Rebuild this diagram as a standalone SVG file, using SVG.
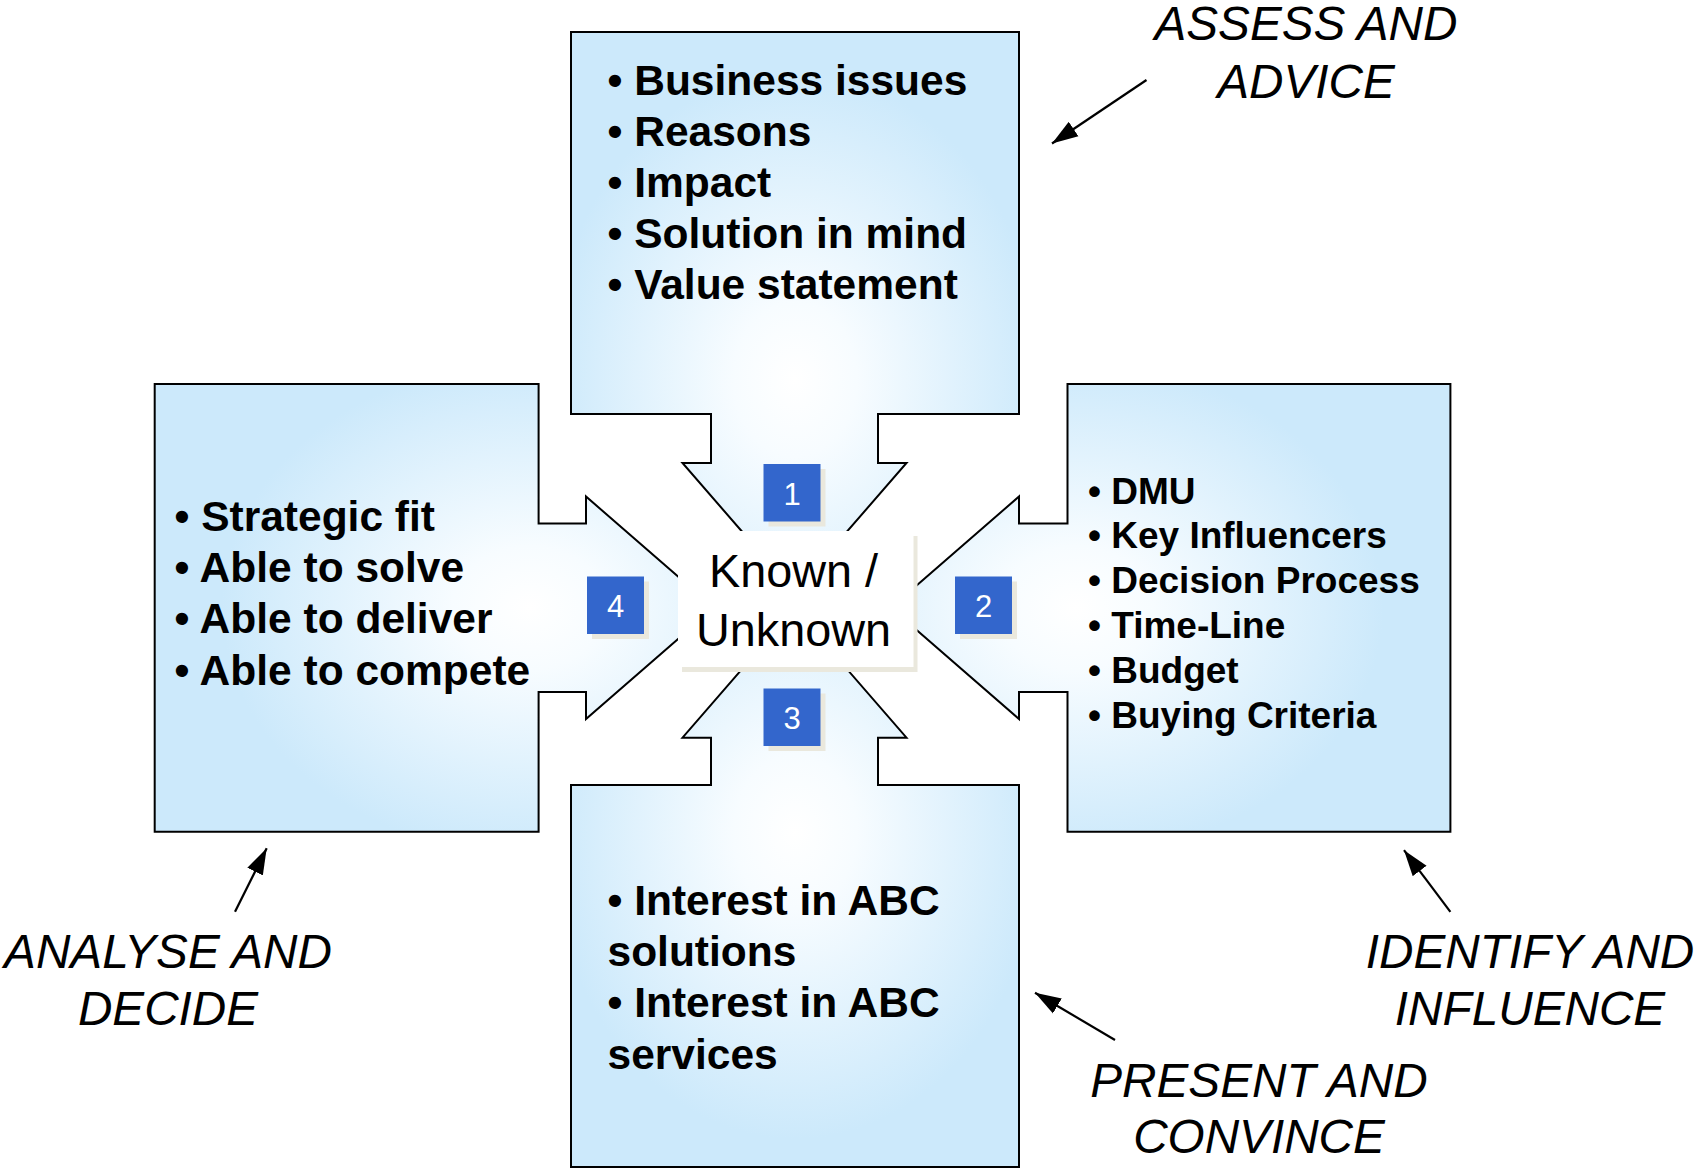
<svg xmlns="http://www.w3.org/2000/svg" width="1696" height="1169" viewBox="0 0 1696 1169">
<style>
.shape{stroke:#000;stroke-width:2;stroke-linejoin:miter}
.bul{font-family:"Liberation Sans",Arial,sans-serif;font-weight:bold;font-size:42.5px;fill:#000}
.bul-s{font-size:37px}
.lbl{font-family:"Liberation Sans",Arial,sans-serif;font-style:italic;font-size:47.7px;fill:#000;text-anchor:middle}
.num{font-family:"Liberation Sans",Arial,sans-serif;font-size:31px;fill:#fff;text-anchor:middle}
.ctr{font-family:"Liberation Sans",Arial,sans-serif;font-size:46.8px;fill:#000;text-anchor:middle}
.sq{fill:#3366CC}
.shd{fill:#EAE8DD}
.ptr{stroke:#000;stroke-width:2.2;fill:none;marker-end:url(#ah)}
</style>
<defs>
<radialGradient id="gTop" cx="0.5" cy="0.62" r="0.55">
<stop offset="0" stop-color="#FFFFFF"/><stop offset="0.25" stop-color="#F7FCFF"/><stop offset="1" stop-color="#CCE9FB"/>
</radialGradient>
<radialGradient id="gBot" cx="0.5" cy="0.40" r="0.55">
<stop offset="0" stop-color="#FFFFFF"/><stop offset="0.25" stop-color="#F7FCFF"/><stop offset="1" stop-color="#CCE9FB"/>
</radialGradient>
<radialGradient id="gLeft" cx="0.67" cy="0.5" r="0.55">
<stop offset="0" stop-color="#FFFFFF"/><stop offset="0.25" stop-color="#F7FCFF"/><stop offset="1" stop-color="#CCE9FB"/>
</radialGradient>
<radialGradient id="gRight" cx="0.33" cy="0.5" r="0.55">
<stop offset="0" stop-color="#FFFFFF"/><stop offset="0.25" stop-color="#F7FCFF"/><stop offset="1" stop-color="#CCE9FB"/>
</radialGradient>
<marker id="ah" markerUnits="userSpaceOnUse" markerWidth="26" markerHeight="18" viewBox="0 0 24 16" refX="24" refY="8" orient="auto">
<path d="M0,0 L24,8 L0,16 Z" fill="#000"/>
</marker>
</defs>
<rect width="1696" height="1169" fill="#fff"/>

<g id="node-top">
<polygon class="shape" fill="url(#gTop)" points="571,32 1019,32 1019,414 878,414 878,463 906.5,463 794.5,592 682.5,463 711,463 711,414 571,414"/>
<text class="bul" x="607.5" y="95">• Business issues</text>
<text class="bul" x="607.5" y="146">• Reasons</text>
<text class="bul" x="607.5" y="197">• Impact</text>
<text class="bul" x="607.5" y="248">• Solution in mind</text>
<text class="bul" x="607.5" y="299">• Value statement</text>
</g>

<g id="node-right">
<polygon class="shape" fill="url(#gRight)" points="1067.5,384 1450.4,384 1450.4,831.7 1067.5,831.7 1067.5,692 1019,692 1019,719 891,607.75 1019,496.5 1019,523.5 1067.5,523.5"/>
<text class="bul bul-s" x="1088" y="503.5">• DMU</text>
<text class="bul bul-s" x="1088" y="548.3">• Key Influencers</text>
<text class="bul bul-s" x="1088" y="593.1">• Decision Process</text>
<text class="bul bul-s" x="1088" y="637.9">• Time-Line</text>
<text class="bul bul-s" x="1088" y="682.7">• Budget</text>
<text class="bul bul-s" x="1088" y="727.5">• Buying Criteria</text>
</g>

<g id="node-left">
<polygon class="shape" fill="url(#gLeft)" points="154.7,384 538.6,384 538.6,523.5 586,523.5 586,496.5 714,607.75 586,719 586,692 538.6,692 538.6,831.7 154.7,831.7"/>
<text class="bul" x="174.5" y="531">• Strategic fit</text>
<text class="bul" x="174.5" y="582.2">• Able to solve</text>
<text class="bul" x="174.5" y="633.4">• Able to deliver</text>
<text class="bul" x="174.5" y="684.6">• Able to compete</text>
</g>

<g id="node-bottom">
<polygon class="shape" fill="url(#gBot)" points="571,1167 571,785 711,785 711,737.7 682.5,737.7 794.5,608.7 906.5,737.7 878,737.7 878,785 1019,785 1019,1167"/>
<text class="bul" x="607.5" y="915">• Interest in ABC</text>
<text class="bul" x="607.5" y="966.2">solutions</text>
<text class="bul" x="607.5" y="1017.4">• Interest in ABC</text>
<text class="bul" x="607.5" y="1068.6">services</text>
</g>

<g id="node-center">
<rect class="shd" x="682" y="536" width="235.5" height="136"/>
<rect x="678" y="531" width="235.5" height="136" fill="#fff"/>
<text class="ctr" x="793.5" y="587">Known /</text>
<text class="ctr" x="793.5" y="646">Unknown</text>
</g>

<g id="badge-1">
<rect class="shd" x="768.5" y="469" width="57" height="57.5"/>
<rect class="sq" x="763.5" y="464" width="57" height="57.5"/>
<text class="num" x="792" y="504.5">1</text>
</g>
<g id="badge-2">
<rect class="shd" x="960" y="581.5" width="57" height="57.5"/>
<rect class="sq" x="955" y="576.5" width="57" height="57.5"/>
<text class="num" x="983.5" y="616.7">2</text>
</g>
<g id="badge-3">
<rect class="shd" x="768.5" y="693.5" width="57" height="57.5"/>
<rect class="sq" x="763.5" y="688.5" width="57" height="57.5"/>
<text class="num" x="792" y="728.5">3</text>
</g>
<g id="badge-4">
<rect class="shd" x="592" y="581.5" width="57" height="57.5"/>
<rect class="sq" x="587" y="576.5" width="57" height="57.5"/>
<text class="num" x="615.5" y="616.7">4</text>
</g>

<g id="connectors">
<line class="ptr" x1="1146.5" y1="80" x2="1052" y2="143.5"/>
<line class="ptr" x1="235" y1="911.7" x2="266.7" y2="848.3"/>
<line class="ptr" x1="1450.4" y1="911.8" x2="1404" y2="850.2"/>
<line class="ptr" x1="1115" y1="1040" x2="1035" y2="992.7"/>
</g>

<g id="label-assess">
<text class="lbl" x="1306" y="40">ASSESS AND</text>
<text class="lbl" x="1306" y="98">ADVICE</text>
</g>
<g id="label-analyse">
<text class="lbl" x="168" y="968">ANALYSE AND</text>
<text class="lbl" x="168" y="1025">DECIDE</text>
</g>
<g id="label-identify">
<text class="lbl" x="1530" y="968">IDENTIFY AND</text>
<text class="lbl" x="1530" y="1025">INFLUENCE</text>
</g>
<g id="label-present">
<text class="lbl" x="1259" y="1096.5">PRESENT AND</text>
<text class="lbl" x="1259" y="1153">CONVINCE</text>
</g>
</svg>
